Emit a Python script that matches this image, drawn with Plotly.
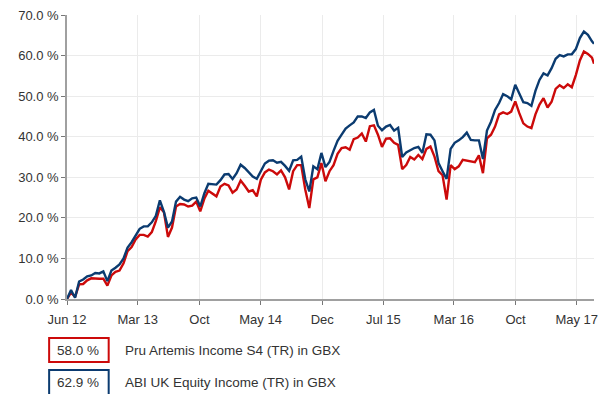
import pandas as pd
import plotly.graph_objects as go

# Fortnightly observation dates, plus the final valuation date
dates = list(pd.date_range("2012-06-29", periods=131, freq="14D")) + [pd.Timestamp("2017-06-30")]

# Cumulative total return (%), Pru Artemis Income S4 (TR) in GBX
pru_artemis = [
    0.0, 1.6, 0.5, 3.6, 3.7, 4.6, 5.1, 5.0, 5.0, 5.0,
    3.3, 5.8, 6.7, 7.0, 8.8, 11.8, 12.8, 14.7, 15.8, 15.8,
    15.4, 16.5, 19.2, 22.6, 21.4, 15.3, 17.6, 22.8, 23.4, 23.3,
    22.8, 23.0, 24.0, 21.6, 24.7, 26.7, 26.0, 25.3, 27.7, 28.4,
    28.0, 26.2, 27.0, 29.2, 27.9, 26.5, 26.8, 25.3, 29.4, 31.2,
    31.9, 31.5, 30.7, 31.7, 30.0, 27.0, 31.5, 33.0, 33.0, 27.0,
    22.4, 29.5, 30.0, 33.5, 29.0, 31.5, 33.0, 35.8, 37.2, 37.4,
    36.8, 39.4, 39.8, 40.8, 38.8, 42.6, 42.8, 40.5, 37.5, 39.5,
    39.6, 38.5, 38.0, 32.0, 33.0, 35.0, 34.4, 35.5, 34.5, 37.0,
    37.6, 35.1, 31.5, 30.5, 24.5, 33.0, 32.0, 32.7, 34.3, 34.1,
    34.0, 33.7, 35.4, 31.0, 39.6, 40.5, 42.5, 45.5, 46.0, 45.6,
    46.2, 48.7, 45.8, 43.3, 42.5, 42.1, 45.5, 47.9, 49.5, 47.2,
    48.6, 51.8, 52.7, 52.0, 52.9, 52.2, 55.2, 58.8, 61.0, 60.4,
    59.5, 58.0,
]

# Cumulative total return (%), ABI UK Equity Income (TR) in GBX
abi_uk_equity = [
    0.0, 2.2, 0.3, 4.3, 4.8, 5.6, 5.8, 6.4, 6.3, 6.8,
    4.4, 7.0, 7.7, 8.5, 10.0, 12.7, 14.0, 15.8, 17.3, 17.9,
    17.9, 18.9, 20.5, 24.3, 21.5, 17.6, 19.1, 24.0, 25.2, 24.5,
    24.1, 24.8, 25.0, 22.8, 26.0, 28.4, 28.3, 28.2, 29.3, 30.7,
    30.8, 29.6, 31.0, 33.1, 32.3, 31.3, 30.2, 29.6, 31.7, 33.4,
    34.1, 34.2, 33.6, 33.8, 32.8, 31.6, 34.2, 34.3, 35.1, 29.5,
    26.5, 32.7, 32.0, 36.0, 32.5, 33.8, 36.5, 39.0, 40.5, 42.0,
    42.8, 43.5, 45.0, 45.0, 44.6, 46.0, 46.6, 42.7, 41.6, 42.5,
    42.9, 41.5, 42.2, 35.0, 36.1, 36.7, 37.2, 37.5, 36.0, 40.6,
    40.5, 39.1, 33.5, 31.5, 29.6, 37.0, 38.5, 39.1, 39.9, 41.0,
    39.2, 39.1, 39.1, 34.5, 41.5, 43.7, 46.6, 48.3, 50.5, 50.0,
    49.2, 52.8, 50.5, 48.5, 48.3, 47.6, 51.3, 54.0, 55.6, 55.1,
    56.9, 59.2, 60.1, 59.8, 60.3, 60.3, 61.6, 64.3, 65.9, 65.1,
    63.5, 62.9,
]

series_names = ["Pru Artemis Income S4 (TR) in GBX", "ABI UK Equity Income (TR) in GBX"]
series_values = [pru_artemis, abi_uk_equity]
series_colors = ["#cc0a0a", "#0b3b70"]

tick_dates = ["2012-06-29", "2013-03-01", "2013-10-01", "2014-05-01", "2014-12-01",
              "2015-07-01", "2016-03-01", "2016-10-01", "2017-05-01"]
tick_labels = ["Jun 12", "Mar 13", "Oct", "May 14", "Dec", "Jul 15", "Mar 16", "Oct", "May 17"]

y_ticks = [0, 10, 20, 30, 40, 50, 60, 70]
y_labels = [f"{v:.1f} %" for v in y_ticks]

FONT = "Liberation Sans, Arial, sans-serif"
TEXT = "#333333"

fig = go.Figure()
for name, values, color in zip(series_names, series_values, series_colors):
    fig.add_trace(go.Scatter(
        x=dates, y=values, mode="lines", name=name,
        line=dict(color=color, width=2.4),
        hoverinfo="skip",
    ))

# Custom legend below the plot: boxed final value followed by the series name
legend_rows = [  # (box top, box bottom, text centre) in paper units
    (-0.1373, -0.2218, -0.1796),
    (-0.2500, -0.3415, -0.2923),
]
for (top, bottom, centre), name, values, color in zip(legend_rows, series_names,
                                                      series_values, series_colors):
    fig.add_shape(type="rect", xref="paper", yref="paper",
                  x0=-0.0339, x1=0.0791, y0=bottom, y1=top,
                  line=dict(color=color, width=2), fillcolor="white")
    fig.add_annotation(xref="paper", yref="paper", x=0.0207, y=centre,
                       text=f"{values[-1]:.1f} %", showarrow=False,
                       xanchor="center", yanchor="middle",
                       font=dict(family=FONT, size=13.5, color=TEXT))
    fig.add_annotation(xref="paper", yref="paper", x=0.1055, y=centre,
                       text=name, showarrow=False,
                       xanchor="left", yanchor="middle",
                       font=dict(family=FONT, size=13.5, color=TEXT))

fig.update_layout(
    width=600, height=394,
    margin=dict(l=67, r=2, t=15, b=95),
    paper_bgcolor="white", plot_bgcolor="white",
    showlegend=False,
    font=dict(family=FONT, size=13, color=TEXT),
)
fig.update_xaxes(
    type="date",
    range=["2012-06-29", "2017-06-30"],
    tickmode="array", tickvals=tick_dates, ticktext=tick_labels,
    ticklabeloverflow="allow", ticklabelstandoff=4,
    showgrid=True, gridcolor="#ebebeb", gridwidth=1,
    showline=True, linecolor="#a0a0a0", linewidth=1.5,
    ticks="outside", ticklen=4, tickcolor="#777777",
    tickfont=dict(family=FONT, size=13, color=TEXT),
    zeroline=False,
)
fig.update_yaxes(
    range=[0, 70],
    tickmode="array", tickvals=y_ticks, ticktext=y_labels,
    showgrid=True, gridcolor="#ebebeb", gridwidth=1,
    showline=True, linecolor="#a0a0a0", linewidth=1.5,
    ticks="outside", ticklen=4, tickcolor="#777777",
    tickfont=dict(family=FONT, size=13, color=TEXT),
    zeroline=False,
)

fig.write_html("out.html")
